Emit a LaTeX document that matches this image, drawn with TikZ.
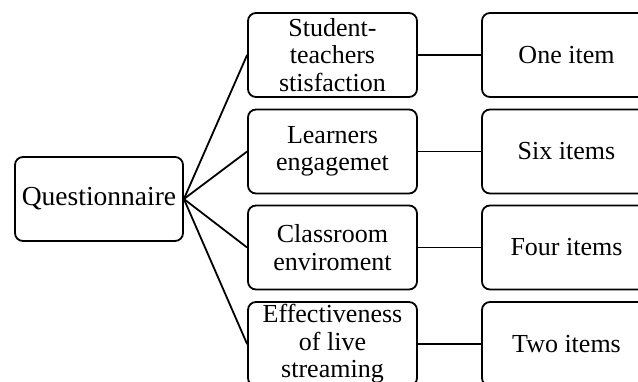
\documentclass[tikz,border=0pt]{standalone}
\usepackage{fontspec}
\setmainfont{Liberation Serif}
\begin{document}
\begin{tikzpicture}[x=1pt,y=-1pt,
  box/.style={draw, line width=1.8pt, rounded corners=8pt, inner sep=0pt,
    minimum width=169pt, minimum height=84pt, align=center,
    font=\fontsize{26}{27.5}\selectfont},
  link/.style={line width=1.8pt}]
\useasboundingbox (0,0) rectangle (638,381);
\clip (0,0) rectangle (638,381);
\node[box, minimum width=168pt, font=\fontsize{27.5}{28}\selectfont] (q) at (99,199) {Questionnaire};
\node[box] (a) at (332.5,55) {Student-\\teachers\\stisfaction};
\node[box] (b) at (332.5,151.5) {Learners\\engagemet};
\node[box] (c) at (332.5,247.5) {Classroom\\enviroment};
\node[box] (d) at (332.5,344) {Effectiveness\\of live\\streaming};
\node[box] (a2) at (566.5,55) {One item};
\node[box] (b2) at (566.5,151.5) {Six items};
\node[box] (c2) at (566.5,247.5) {Four items};
\node[box] (d2) at (566.5,344) {Two items};
\foreach \n in {a,b,c,d} {
  \draw[link] (q.east) -- (\n.west);
  \draw[link] (\n.east) -- (\n2.west);
}
\end{tikzpicture}
\end{document}
